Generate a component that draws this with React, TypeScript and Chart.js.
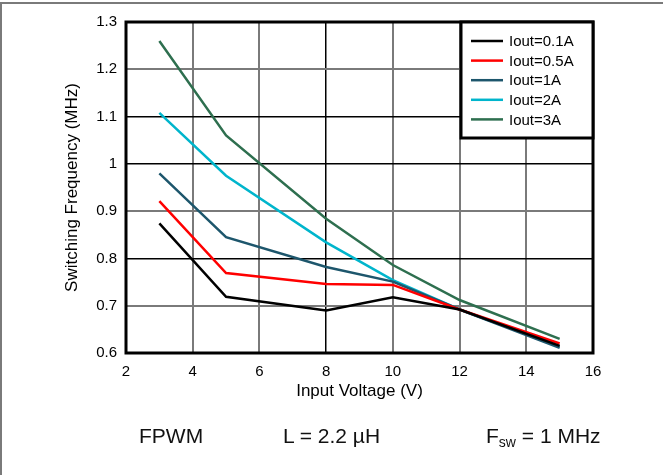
import React, { useEffect, useRef } from "react";
import { Chart, registerables } from "chart.js";

Chart.register(...registerables);

const voltages = [3, 5, 8, 10, 12, 15];
const seriesLabels = ["Iout=0.1A", "Iout=0.5A", "Iout=1A", "Iout=2A", "Iout=3A"];
const iout01 = [0.874, 0.719, 0.69, 0.718, 0.692, 0.615];
const iout05 = [0.921, 0.769, 0.746, 0.744, 0.692, 0.62];
const iout1 = [0.98, 0.845, 0.782, 0.751, 0.692, 0.611];
const iout2 = [1.108, 0.975, 0.834, 0.754, 0.692, 0.614];
const iout3 = [1.26, 1.06, 0.884, 0.786, 0.712, 0.63];
const seriesColors = ["#000000", "#ff0000", "#1d566c", "#00b5cc", "#2e6f4f"];
const xTicks = [2, 4, 6, 8, 10, 12, 14, 16];
const yTicks = [0.6, 0.7, 0.8, 0.9, 1.0, 1.1, 1.2, 1.3];
const blackXGrid = [8];
const blackYGrid = [0.8, 1.0, 1.1];

const FONT = "'Liberation Sans', Arial, Helvetica, sans-serif";

const frameAndLegend = {
  id: "frameAndLegend",
  afterDatasetsDraw(chart: any) {
    const { ctx, chartArea } = chart;
    ctx.save();
    // plot border
    ctx.strokeStyle = "#000";
    ctx.lineWidth = 3;
    ctx.strokeRect(chartArea.left, chartArea.top, chartArea.right - chartArea.left, chartArea.bottom - chartArea.top);
    // legend box
    const bx = 461;
    const by = chartArea.top;
    const bw = chartArea.right - bx;
    const bh = 116;
    ctx.fillStyle = "#fff";
    ctx.fillRect(bx, by, bw, bh);
    ctx.lineWidth = 3;
    ctx.strokeRect(bx, by, bw, bh);
    ctx.font = `15px ${FONT}`;
    ctx.textBaseline = "middle";
    ctx.textAlign = "left";
    chart.data.datasets.forEach((ds: any, i: number) => {
      const y = by + 19 + i * 19.6;
      ctx.strokeStyle = ds.borderColor;
      ctx.lineWidth = 2.5;
      ctx.beginPath();
      ctx.moveTo(471, y);
      ctx.lineTo(503, y);
      ctx.stroke();
      ctx.fillStyle = "#000";
      ctx.fillText(ds.label, 509, y + 1);
    });
    // outer frame
    ctx.strokeStyle = "#7a7a7a";
    ctx.lineWidth = 2;
    ctx.beginPath();
    ctx.moveTo(1, 475);
    ctx.lineTo(1, 3);
    ctx.lineTo(663, 3);
    ctx.stroke();
    ctx.restore();
  },
};

export default function App() {
  const canvasRef = useRef<HTMLCanvasElement | null>(null);

  useEffect(() => {
    const canvas = canvasRef.current;
    if (!canvas) return;
    const seriesValues = [iout01, iout05, iout1, iout2, iout3];
    const chart = new Chart(canvas, {
      type: "line",
      data: {
        datasets: seriesValues.map((vals, i) => ({
          label: seriesLabels[i],
          data: vals.map((v, j) => ({ x: voltages[j], y: v })),
          borderColor: seriesColors[i],
          backgroundColor: seriesColors[i],
          borderWidth: 2.5,
          pointRadius: 0,
          tension: 0,
          fill: false,
        })),
      },
      options: {
        responsive: false,
        animation: false,
        events: [],
        layout: { padding: { left: 0, right: 70, top: 22, bottom: 73 } },
        plugins: {
          legend: { display: false },
          tooltip: { enabled: false },
        },
        scales: {
          x: {
            type: "linear",
            min: 2,
            max: 16,
            afterFit: (scale: any) => {
              scale.height = 49;
            },
            afterBuildTicks: (scale: any) => {
              scale.ticks = xTicks.map((v) => ({ value: v }));
            },
            ticks: {
              color: "#000",
              font: { family: FONT, size: 15 },
              padding: 10,
              maxRotation: 0,
              callback: (v: any) => String(v),
            },
            grid: {
              drawTicks: false,
              color: (c: any) => (blackXGrid.includes(c.tick?.value) ? "#000" : "#7a7a7a"),
              lineWidth: (c: any) => (blackXGrid.includes(c.tick?.value) ? 1.5 : 2),
            },
            border: { display: false },
            title: {
              display: true,
              text: "Input Voltage (V)",
              color: "#000",
              font: { family: FONT, size: 17 },
              padding: { top: 0, bottom: 0 },
            },
          },
          y: {
            type: "linear",
            min: 0.6,
            max: 1.3,
            afterFit: (scale: any) => {
              scale.width = 126;
            },
            afterBuildTicks: (scale: any) => {
              scale.ticks = yTicks.map((v) => ({ value: v }));
            },
            ticks: {
              color: "#000",
              font: { family: FONT, size: 15 },
              padding: 9,
              callback: (v: any) => String(Number(Number(v).toFixed(1))),
            },
            grid: {
              drawTicks: false,
              color: (c: any) =>
                blackYGrid.some((b) => Math.abs(b - (c.tick?.value ?? -1)) < 1e-6) ? "#000" : "#7a7a7a",
              lineWidth: (c: any) =>
                blackYGrid.some((b) => Math.abs(b - (c.tick?.value ?? -1)) < 1e-6) ? 1.5 : 2,
            },
            border: { display: false },
            title: {
              display: true,
              text: "Switching Frequency (MHz)",
              color: "#000",
              font: { family: FONT, size: 17 },
              padding: { top: 62, bottom: 0 },
            },
          },
        },
      },
      plugins: [frameAndLegend],
    });
    return () => chart.destroy();
  }, []);

  const noteStyle: React.CSSProperties = {
    position: "absolute",
    top: 423,
    fontFamily: FONT,
    fontSize: 21,
    color: "#111",
    whiteSpace: "nowrap",
    lineHeight: "26px",
  };

  return (
    <div style={{ position: "absolute", left: 0, top: 0, width: 663, height: 475, background: "#fff" }}>
      <canvas ref={canvasRef} width={663} height={475} style={{ display: "block" }} />
      <div style={{ ...noteStyle, left: 139 }}>FPWM</div>
      <div style={{ ...noteStyle, left: 283 }}>L = 2.2 µH</div>
      <div style={{ ...noteStyle, left: 486 }}>
        F<sub style={{ fontSize: 14, verticalAlign: "-4px" }}>sw</sub> = 1 MHz
      </div>
    </div>
  );
}
